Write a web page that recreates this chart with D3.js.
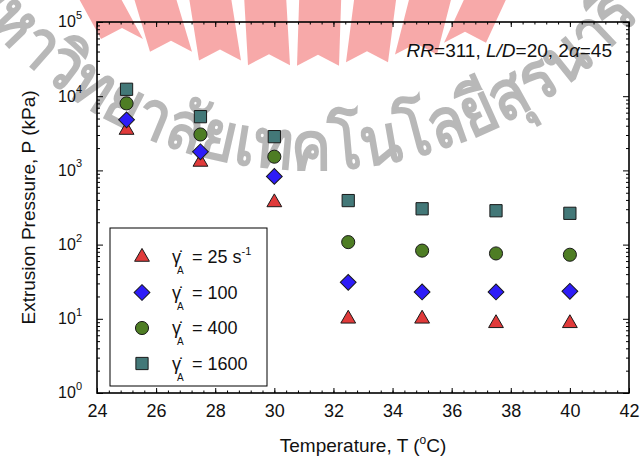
<!DOCTYPE html>
<html>
<head>
<meta charset="utf-8">
<script src="https://cdn.jsdelivr.net/npm/d3@7"></script>
<style>
	body { margin: 0; background: #fff; }
	svg { display: block; font-family: "Liberation Sans", Arial, sans-serif; }
</style>
</head>
<body>
<div id="chart"></div>
<script>
'use strict';

// data
var temps = [25, 27.5, 30, 32.5, 35, 37.5, 40];
var p25 = [3500, 1300, 370, 10, 10, 8.7, 8.7];
var p100 = [4800, 1780, 830, 31, 23, 23, 23.5];
var p400 = [8000, 3050, 1530, 108, 83, 76, 73];
var p1600 = [12400, 5300, 2850, 392, 304, 286, 264];
var rates = ['25', '100', '400', '1600'];

var xTicks = [24, 26, 28, 30, 32, 34, 36, 38, 40, 42];
var yTicks = [1, 10, 100, 1000, 10000, 100000];
var yExps = ['0', '1', '2', '3', '4', '5'];

var width = 641, height = 461;
var plotLeft = 97, plotRight = 629, plotTop = 22, plotBottom = 393;

var svg = d3.select('#chart')
	.append('svg')
	.attr('width', width)
	.attr('height', height);

// Watermark (university logo behind the plot)
var wm = svg.append('g').attr('class', 'watermark');
var cx = 300;
for (var k = 0; k < 8; k++) {
	var xc = 122 + k * 49;
	var t = (xc - cx) / 200;
	var yb = 66 - 34 * t * t;
	var shift = (xc - cx) * 0.12;
	var pts = [
		[xc - 21 + shift, 0], [xc + 21 + shift, 0],
		[xc + 21, yb], [xc, yb - 11], [xc - 21, yb]
	];
	wm.append('path')
		.attr('d', 'M' + pts.join('L') + 'Z')
		.attr('fill', '#ee4040')
		.attr('opacity', 0.45);
}
wm.append('path')
	.attr('id', 'wmArc')
	.attr('d', 'M-57,-36 A430,430 0 0,0 714,-113')
	.attr('fill', 'none');
wm.append('text')
	.attr('font-size', 68)
	.attr('font-weight', 'bold')
	.attr('fill', '#8a8a8a')
	.attr('opacity', 0.6)
	.append('textPath')
	.attr('href', '#wmArc')
	.attr('startOffset', 32)
	.attr('textLength', 785)
	.attr('lengthAdjust', 'spacingAndGlyphs')
	.text('มหาวิทยาลัยเทคโนโลยีสุรนารี');

// Scales
var x = d3.scaleLinear().domain([24, 42]).range([plotLeft, plotRight]);
var y = d3.scaleLog().domain([1, 1e5]).range([plotBottom, plotTop]);

var xMinor = d3.range(24, 42.01, 0.4);
var yMinor = [];
yTicks.slice(0, -1).forEach(function(d) {
	for (var m = 2; m < 10; m++) yMinor.push(d * m);
});

function tidy(g) {
	g.select('.domain').remove();
	g.selectAll('line').attr('stroke', '#000').attr('stroke-width', 1);
}

// Axes, ticks point inward on all four sides
svg.append('g').attr('transform', 'translate(0,' + plotBottom + ')')
	.call(d3.axisBottom(x).tickValues(xMinor).tickSize(-2.5).tickFormat(''))
	.call(tidy);
svg.append('g').attr('transform', 'translate(0,' + plotTop + ')')
	.call(d3.axisTop(x).tickValues(xMinor).tickSize(-2.5).tickFormat(''))
	.call(tidy);
svg.append('g').attr('transform', 'translate(0,' + plotTop + ')')
	.call(d3.axisTop(x).tickValues(xTicks).tickSize(-5).tickFormat(''))
	.call(tidy);
var xAxis = svg.append('g').attr('transform', 'translate(0,' + plotBottom + ')')
	.call(d3.axisBottom(x).tickValues(xTicks).tickSize(-5).tickPadding(11).tickFormat(d3.format('d')))
	.call(tidy);
xAxis.selectAll('text').attr('font-size', 18).attr('fill', '#111');

svg.append('g').attr('transform', 'translate(' + plotLeft + ',0)')
	.call(d3.axisLeft(y).tickValues(yMinor).tickSize(-3).tickFormat(''))
	.call(tidy);
svg.append('g').attr('transform', 'translate(' + plotRight + ',0)')
	.call(d3.axisRight(y).tickValues(yMinor).tickSize(-3).tickFormat(''))
	.call(tidy);
svg.append('g').attr('transform', 'translate(' + plotRight + ',0)')
	.call(d3.axisRight(y).tickValues(yTicks).tickSize(-6).tickFormat(''))
	.call(tidy);
var yAxis = svg.append('g').attr('transform', 'translate(' + plotLeft + ',0)')
	.call(d3.axisLeft(y).tickValues(yTicks).tickSize(-6).tickPadding(15).tickFormat(''))
	.call(tidy);
yAxis.selectAll('.tick text').each(function(d, i) {
	var txt = d3.select(this).attr('font-size', 16).attr('fill', '#111').attr('dy', '0.3em');
	txt.append('tspan').text('10');
	txt.append('tspan').attr('font-size', 11).attr('dy', '-0.75em').text(yExps[i]);
});

svg.append('rect')
	.attr('x', plotLeft).attr('y', plotTop)
	.attr('width', plotRight - plotLeft).attr('height', plotBottom - plotTop)
	.attr('fill', 'none').attr('stroke', '#000').attr('stroke-width', 1.6);

// Axis titles
svg.append('text')
	.attr('x', (plotLeft + plotRight) / 2).attr('y', 452)
	.attr('text-anchor', 'middle').attr('font-size', 19).attr('fill', '#111')
	.call(function(t) {
		t.append('tspan').text('Temperature, T (');
		t.append('tspan').attr('font-size', 12).attr('dy', -8).text('o');
		t.append('tspan').attr('dy', 8).text('C)');
	});
svg.append('text')
	.attr('transform', 'translate(35,' + (plotTop + plotBottom) / 2 + ') rotate(-90)')
	.attr('text-anchor', 'middle').attr('font-size', 19).attr('fill', '#111')
	.text('Extrusion Pressure, P (kPa)');

// Annotation
svg.append('text')
	.attr('x', 612).attr('y', 57)
	.attr('text-anchor', 'end').attr('font-size', 19).attr('fill', '#111')
	.call(function(t) {
		t.append('tspan').attr('font-style', 'italic').text('RR');
		t.append('tspan').text('=311, ');
		t.append('tspan').attr('font-style', 'italic').text('L/D');
		t.append('tspan').text('=20, 2');
		t.append('tspan').attr('font-style', 'italic').text('α');
		t.append('tspan').text('=45');
	});

// Series
var series = [
	{values: p25, symbol: d3.symbolTriangle, size: 95, rotate: 0, color: '#e03a3a'},
	{values: p100, symbol: d3.symbolSquare, size: 125, rotate: 45, color: '#2d1cf8'},
	{values: p400, symbol: d3.symbolCircle, size: 135, rotate: 0, color: '#4e7d24'},
	{values: p1600, symbol: d3.symbolSquare, size: 150, rotate: 0, color: '#437878'}
];

series.forEach(function(s) {
	svg.append('g')
		.selectAll('path')
		.data(s.values)
		.enter()
		.append('path')
		.attr('d', d3.symbol().type(s.symbol).size(s.size))
		.attr('transform', function(d, i) {
			return 'translate(' + x(temps[i]) + ',' + y(d) + ') rotate(' + s.rotate + ')';
		})
		.attr('fill', s.color)
		.attr('stroke', '#1a1a1a')
		.attr('stroke-width', 1);
});

// Legend
var legend = svg.append('g');
legend.append('rect')
	.attr('x', 110).attr('y', 228)
	.attr('width', 157).attr('height', 158)
	.attr('fill', '#fff').attr('stroke', '#000').attr('stroke-width', 1);

var items = legend.selectAll('.item')
	.data(series)
	.enter()
	.append('g')
	.attr('class', 'item')
	.attr('transform', function(d, i) { return 'translate(142,' + (257 + i * 35.5) + ')'; });

items.append('path')
	.attr('d', function(d) { return d3.symbol().type(d.symbol).size(d.size)(); })
	.attr('transform', function(d) { return 'rotate(' + d.rotate + ')'; })
	.attr('fill', function(d) { return d.color; })
	.attr('stroke', '#1a1a1a');

items.append('text')
	.attr('x', 30).attr('y', 6)
	.attr('font-size', 18).attr('fill', '#111')
	.text('γ̇');
items.append('text')
	.attr('x', 35).attr('y', 17)
	.attr('font-size', 10).attr('fill', '#111')
	.text('A');
items.append('text')
	.attr('x', 50).attr('y', 6)
	.attr('font-size', 18).attr('fill', '#111')
	.each(function(d, i) {
		var t = d3.select(this);
		t.append('tspan').text('= ' + rates[i] + (i === 0 ? ' s' : ''));
		if (i === 0) t.append('tspan').attr('font-size', 11).attr('dy', -8).text('-1');
	});
</script>
</body>
</html>
